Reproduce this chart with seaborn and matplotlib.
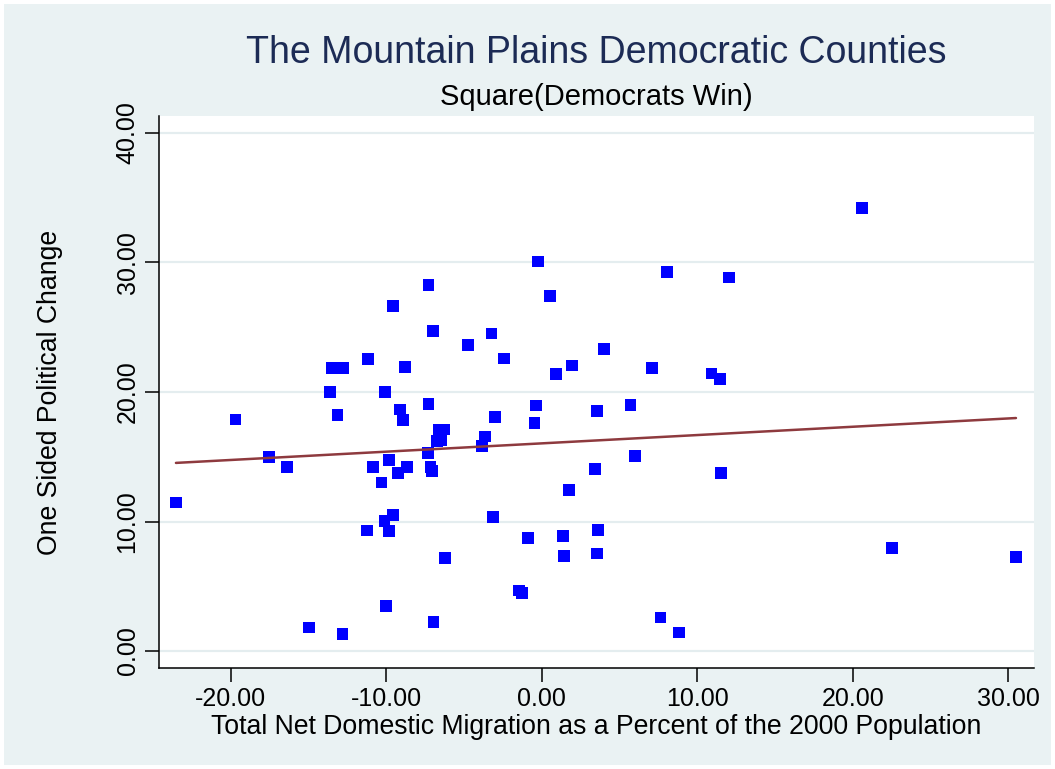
import matplotlib
matplotlib.use("Agg")
import matplotlib.pyplot as plt
import seaborn as sns
import pandas as pd
from matplotlib.patches import Rectangle
from matplotlib.ticker import FormatStrFormatter

# Data
migration = [
    -23.52, -19.70, -17.52, -16.38, -14.98, -12.80, -13.61, -13.50, -12.76, -13.12,
    -11.15, -11.25, -10.85, -10.29, -10.06, -10.11, -9.58, -9.82, -9.82, -9.56,
    -10.03, -9.11, -8.90, -8.81, -9.24, -8.66, -7.29, -6.97, -7.27, -7.33,
    -7.16, -7.04, -6.95, -6.64, -6.28, -6.73, -6.48, -6.22, -4.74, -3.23,
    -2.42, -3.00, -3.65, -3.84, -3.13, -1.46, -1.25, -0.88, -0.24, -0.35,
    -0.45, 0.53, 0.92, 1.95, 1.39, 1.45, 1.74, 3.56, 3.64, 3.56,
    3.41, 3.99, 5.72, 6.00, 7.11, 7.65, 8.06, 8.83, 10.91, 11.45,
    11.55, 12.06, 20.60, 22.53, 30.50,
]
political_change = [
    11.47, 17.89, 15.00, 14.19, 1.83, 1.31, 19.98, 21.83, 21.83, 18.22,
    22.57, 9.32, 14.19, 13.00, 19.98, 10.04, 10.50, 9.29, 14.75, 26.62,
    3.47, 18.66, 17.84, 21.95, 13.75, 14.19, 28.26, 24.73, 19.05, 15.27,
    14.23, 13.90, 2.26, 17.10, 17.10, 16.22, 16.29, 7.20, 23.63, 24.53,
    22.60, 18.05, 16.56, 15.83, 10.35, 4.66, 4.48, 8.73, 30.09, 18.97,
    17.63, 27.39, 21.41, 22.06, 8.88, 7.36, 12.43, 18.53, 9.34, 7.54,
    14.05, 23.32, 19.00, 15.06, 21.83, 2.60, 29.27, 1.44, 21.44, 21.00,
    13.75, 28.83, 34.21, 7.95, 7.26,
]
x_ticks = [-20, -10, 0, 10, 20, 30]
y_ticks = [0, 10, 20, 30, 40]

title = "The Mountain Plains Democratic Counties"
subtitle = "Square(Democrats Win)"
x_label = "Total Net Domestic Migration as a Percent of the 2000 Population"
y_label = "One Sided Political Change"

df = pd.DataFrame({"migration": migration, "change": political_change})

sns.set_theme(style="white")
plt.rcParams["font.family"] = ["Liberation Sans", "DejaVu Sans"]

bg = "#EAF2F3"
fig = plt.figure(figsize=(10.55, 7.69), dpi=100, facecolor="white")
fig.patches.append(Rectangle((4 / 1055, 4 / 769), 1 - 8 / 1055, 1 - 8 / 769,
                             transform=fig.transFigure, facecolor=bg,
                             edgecolor="none", zorder=-10))
ax = fig.add_axes([159 / 1055, 1 - 668 / 769, 875 / 1055, 552 / 769])
ax.set_facecolor("white")

for yt in y_ticks:
    ax.axhline(yt, color="#E4EDEF", lw=1.6, zorder=0)

sns.scatterplot(data=df, x="migration", y="change", marker="s", s=70,
                color="#0000FF", edgecolor="none", linewidth=0, ax=ax, zorder=3)
sns.regplot(data=df, x="migration", y="change", scatter=False, ci=None,
            truncate=True, color="#8E3A3E", line_kws={"lw": 1.8, "zorder": 4},
            ax=ax)

ax.set_xlim(-24.61, 31.66)
ax.set_ylim(-1.31, 41.31)
ax.set_xticks(x_ticks)
ax.set_yticks(y_ticks)
ax.xaxis.set_major_formatter(FormatStrFormatter("%.2f"))
ax.yaxis.set_major_formatter(FormatStrFormatter("%.2f"))
ax.tick_params(axis="both", direction="out", length=10, width=1.1,
               color="black", labelsize=18, labelcolor="black", pad=4,
               bottom=True, left=True)
for lab in ax.get_yticklabels():
    lab.set_rotation(90)
    lab.set_va("center")

for side in ["top", "right"]:
    ax.spines[side].set_visible(False)
for side in ["left", "bottom"]:
    ax.spines[side].set_visible(True)
    ax.spines[side].set_color("black")
    ax.spines[side].set_linewidth(1.1)

ax.set_xlabel(x_label, fontsize=19.2, color="black", labelpad=2)
ax.set_ylabel(y_label, fontsize=19.2, color="black", labelpad=38)

fig.text(596 / 1055, 1 - 53 / 769, title, ha="center", va="center",
         fontsize=27, color="#1C2B55")
fig.text(596 / 1055, 1 - 97 / 769, subtitle, ha="center", va="center",
         fontsize=21, color="black")

fig.savefig("out.png", dpi=100, facecolor=fig.get_facecolor())
